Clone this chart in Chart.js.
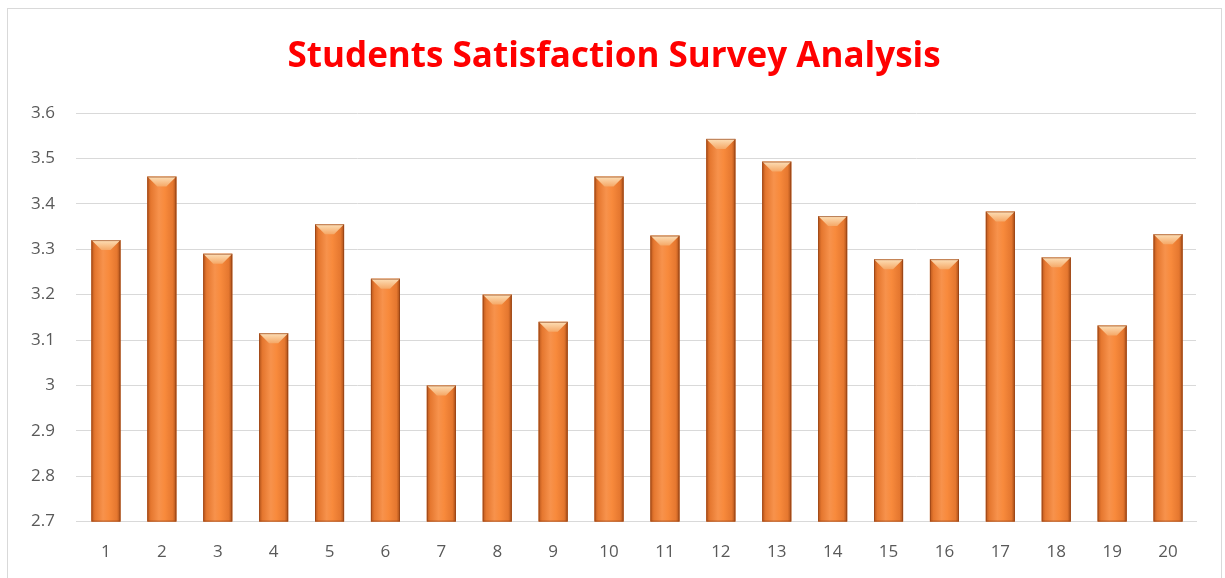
<!DOCTYPE html>
<html>
<head>
<meta charset="utf-8">
<script src="https://cdn.jsdelivr.net/npm/chart.js@4.4.1/dist/chart.umd.min.js"></script>
<style>
body { margin: 0; background: #fff; }
#wrap { position: relative; width: 1225px; height: 578px; }
#frame { position: absolute; left: 7px; top: 8px; width: 1215px; height: 575px; border: 1px solid #d9d9d9; box-sizing: border-box; }
canvas { position: absolute; left: 0; top: 0; }
</style>
</head>
<body>
<div id="wrap">
<div id="frame"></div>
<canvas id="c" width="1225" height="578"></canvas>
</div>
<script>
const questions = ["1","2","3","4","5","6","7","8","9","10","11","12","13","14","15","16","17","18","19","20"]
const scores = [3.32, 3.46, 3.29, 3.115, 3.355, 3.235, 3.0, 3.2, 3.14, 3.46, 3.33, 3.543, 3.493, 3.373, 3.278, 3.278, 3.383, 3.282, 3.132, 3.333]
const yTicks = [2.7, 2.8, 2.9, 3.0, 3.1, 3.2, 3.3, 3.4, 3.5, 3.6]

// paints the shaded orange look on top of every bar
const barShade = {
    id: "barShade",
    afterDatasetsDraw(chart) {
        let ctx = chart.ctx
        let area = chart.chartArea
        chart.getDatasetMeta(0).data.forEach(bar => {
            let w = bar.width, l = bar.x - w / 2, top = bar.y, bot = Math.min(bar.base, area.bottom)
            let g = ctx.createLinearGradient(l, 0, l + w, 0)
            g.addColorStop(0, "#b8561c")
            g.addColorStop(0.12, "#e5772f")
            g.addColorStop(0.4, "#f7924c")
            g.addColorStop(0.6, "#f88a3c")
            g.addColorStop(0.88, "#e5772f")
            g.addColorStop(1, "#a84e18")
            ctx.save()
            ctx.fillStyle = g
            ctx.fillRect(l, top, w, bot - top)
            // top bevel
            let b = 10
            ctx.beginPath()
            ctx.moveTo(l, top)
            ctx.lineTo(l + w, top)
            ctx.lineTo(l + w - b, top + b)
            ctx.lineTo(l + b, top + b)
            ctx.closePath()
            let gt = ctx.createLinearGradient(0, top, 0, top + b)
            gt.addColorStop(0, "#fde0b8")
            gt.addColorStop(1, "#f5a867")
            ctx.fillStyle = gt
            ctx.fill()
            ctx.strokeStyle = "rgba(140,60,20,0.6)"
            ctx.lineWidth = 1
            ctx.strokeRect(l + 0.5, top + 0.5, w - 1, bot - top - 1)
            ctx.restore()
        })
    }
}

new Chart(document.getElementById("c"), {
    type: "bar",
    data: {
        labels: questions,
        datasets: [{
            data: scores,
            backgroundColor: "#ed7d31",
            categoryPercentage: 1,
            barPercentage: 0.52
        }]
    },
    options: {
        responsive: false,
        animation: false,
        layout: { padding: { left: 14, right: 29, top: 32, bottom: 4 } },
        plugins: {
            legend: { display: false },
            tooltip: { enabled: false },
            title: {
                display: true,
                // two leading spaces nudge the centred title right like the original
                text: "  Students Satisfaction Survey Analysis",
                color: "#ff0000",
                font: { family: "Open Sans", size: 35, weight: "bold" },
                padding: { top: 4, bottom: 35 }
            }
        },
        scales: {
            x: {
                grid: { display: false },
                border: { color: "#d9d9d9" },
                ticks: { color: "#595959", font: { family: "Open Sans", size: 17 }, padding: 12 }
            },
            y: {
                min: 2.7,
                max: 3.6,
                afterBuildTicks: s => { s.ticks = yTicks.map(v => ({ value: v })) },
                afterFit: s => { s.width = 64 },
                grid: { color: "#d9d9d9", tickLength: 2, tickColor: "#d9d9d9" },
                border: { display: false },
                ticks: {
                    color: "#595959",
                    font: { family: "Open Sans", size: 17 },
                    padding: 21,
                    callback: v => Math.abs(v - 3) < 1e-9 ? "3" : v.toFixed(1)
                }
            }
        }
    },
    plugins: [barShade]
})
</script>
</body>
</html>
